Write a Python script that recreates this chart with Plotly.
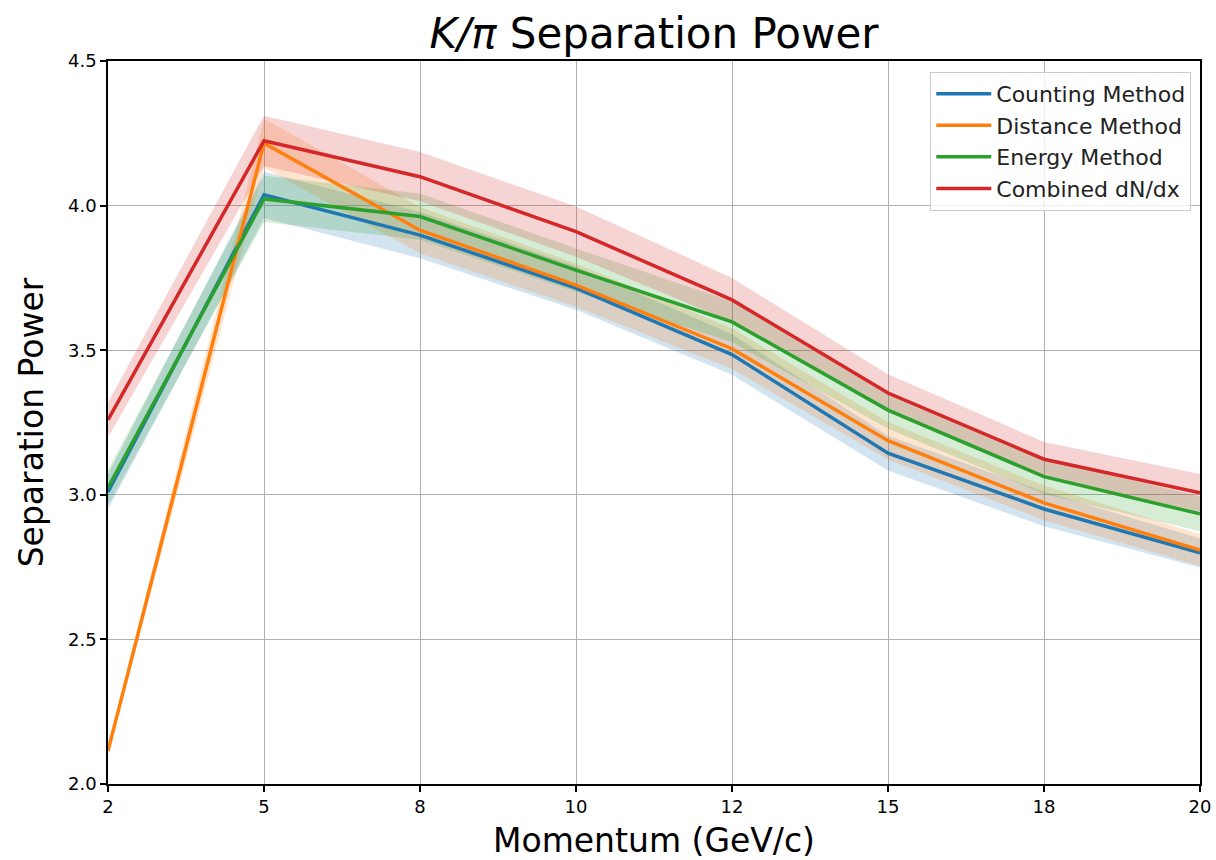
import plotly.graph_objects as go

momentum = ["2", "5", "8", "10", "12", "15", "18", "20"]

counting = [3.01, 4.037, 3.898, 3.715, 3.485, 3.144, 2.951, 2.799]
distance = [2.115, 4.216, 3.915, 3.725, 3.505, 3.187, 2.972, 2.809]
energy = [3.025, 4.023, 3.962, 3.777, 3.598, 3.293, 3.063, 2.934]
combined = [3.259, 4.224, 4.100, 3.910, 3.674, 3.352, 3.123, 3.007]

counting_err = [0.06, 0.08, 0.08, 0.075, 0.07, 0.06, 0.06, 0.05]
distance_err = [0.01, 0.085, 0.08, 0.075, 0.07, 0.065, 0.06, 0.055]
energy_err = [0.06, 0.08, 0.08, 0.075, 0.07, 0.065, 0.06, 0.06]
combined_err = [0.06, 0.087, 0.085, 0.087, 0.076, 0.065, 0.06, 0.065]

names = ["Counting Method", "Distance Method", "Energy Method", "Combined dN/dx"]
colors = ["#1f77b4", "#ff7f0e", "#2ca02c", "#d62728"]
fills = ["rgba(31,119,180,0.2)", "rgba(255,127,14,0.2)", "rgba(44,160,44,0.2)", "rgba(214,39,40,0.2)"]
series = [counting, distance, energy, combined]
errors = [counting_err, distance_err, energy_err, combined_err]

fig = go.Figure()

for vals, errs, fc in zip(series, errors, fills):
    lower = [v - e for v, e in zip(vals, errs)]
    upper = [v + e for v, e in zip(vals, errs)]
    fig.add_trace(go.Scatter(x=momentum, y=lower, mode="lines", line=dict(width=0),
                             showlegend=False, hoverinfo="skip"))
    fig.add_trace(go.Scatter(x=momentum, y=upper, mode="lines", line=dict(width=0),
                             fill="tonexty", fillcolor=fc, showlegend=False, hoverinfo="skip"))

for vals, name, c in zip(series, names, colors):
    fig.add_trace(go.Scatter(x=momentum, y=vals, mode="lines", name=name,
                             line=dict(color=c, width=3.5)))

font_family = "DejaVu Sans"

fig.update_layout(
    width=1216, height=860,
    margin=dict(l=108, r=16, t=61, b=76, autoexpand=False),
    paper_bgcolor="white", plot_bgcolor="white",
    font=dict(family=font_family, color="black"),
    title=dict(text="<i>K/π</i> Separation Power", x=(108 + 1200) / 2 / 1216, xanchor="center",
               y=1 - 33 / 860, yanchor="middle", yref="container",
               font=dict(size=42, family=font_family, color="black")),
    legend=dict(x=0.992, y=0.985, xanchor="right", yanchor="top",
                bgcolor="rgba(255,255,255,0.8)", bordercolor="#cccccc", borderwidth=1,
                font=dict(size=22, family=font_family, color="#222222"),
                traceorder="normal", itemwidth=55, tracegroupgap=0),
    showlegend=True,
)

fig.update_xaxes(
    type="category", categoryorder="array", categoryarray=momentum,
    range=[0, 7], automargin=True,
    title=dict(text="Momentum (GeV/c)", font=dict(size=33, family=font_family), standoff=14),
    showline=True, linecolor="black", linewidth=1.5, mirror=True,
    ticks="outside", ticklen=6, tickwidth=1.5, tickcolor="black",
    tickfont=dict(size=18, family=font_family),
    showgrid=True, gridcolor="#b0b0b0", gridwidth=1.3, zeroline=False,
)
fig.update_yaxes(
    range=[2.0, 4.5], dtick=0.5, tick0=2.0, tickformat=".1f", automargin=True,
    title=dict(text="Separation Power", font=dict(size=33, family=font_family), standoff=14),
    showline=True, linecolor="black", linewidth=1.5, mirror=True,
    ticks="outside", ticklen=6, tickwidth=1.5, tickcolor="black",
    tickfont=dict(size=18, family=font_family),
    showgrid=True, gridcolor="#b0b0b0", gridwidth=1.3, zeroline=False,
)

fig.write_html("out.html")
